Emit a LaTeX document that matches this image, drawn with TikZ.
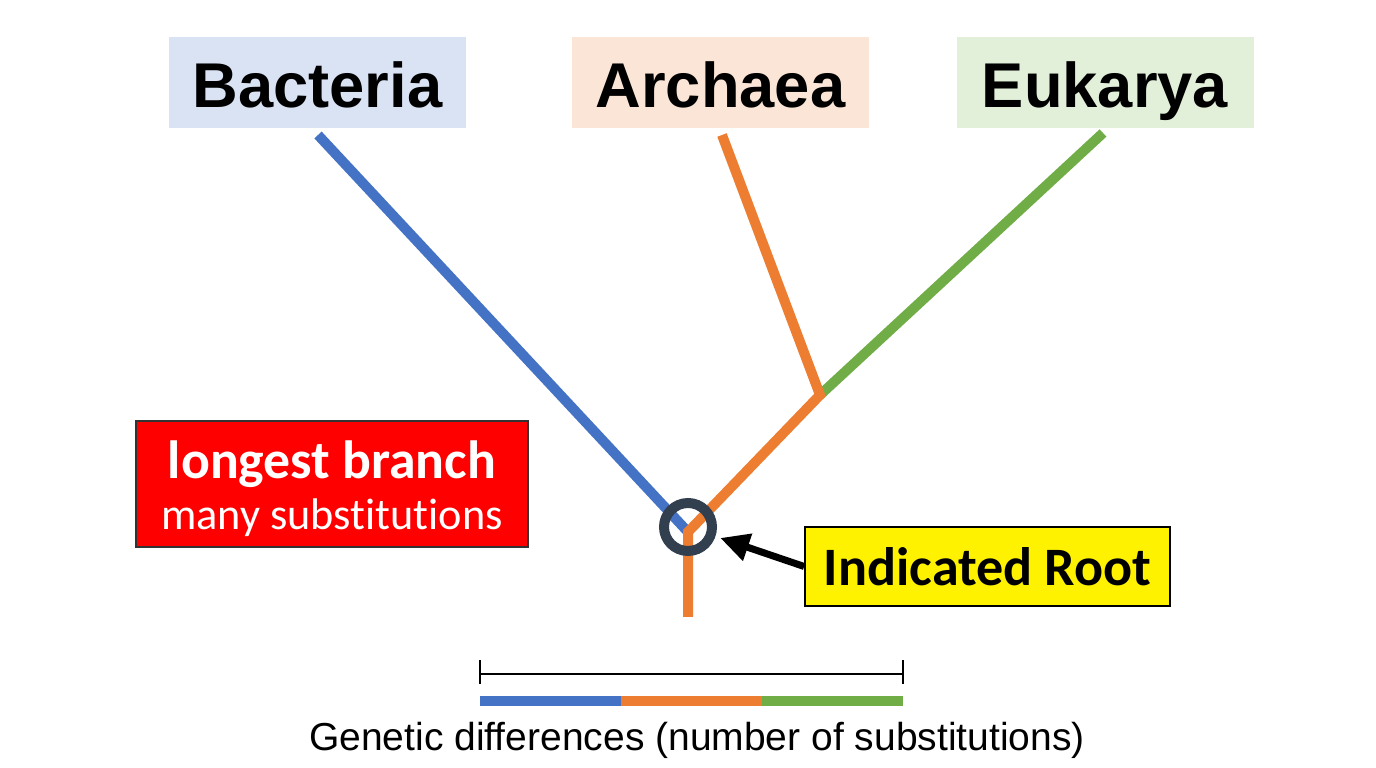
\documentclass[tikz,border=0pt]{standalone}
\usepackage{fontspec}
\setmainfont{Liberation Sans}
\newfontfamily\calibri[Ligatures=NoCommon]{Carlito}
\usetikzlibrary{arrows.meta}
\definecolor{bactblue}{HTML}{4472C4}
\definecolor{archorange}{HTML}{ED7D31}
\definecolor{eukgreen}{HTML}{70AD47}
\definecolor{bactfill}{HTML}{DAE3F3}
\definecolor{archfill}{HTML}{FBE5D6}
\definecolor{eukfill}{HTML}{E2F0D9}
\definecolor{ringnavy}{HTML}{323F4F}
\begin{document}
\begin{tikzpicture}[x=0.1mm, y=-0.1mm,
    domainbox/.style={minimum width=29.7mm, minimum height=9.1mm, inner sep=0pt,
      text height=14pt, text depth=0pt, font=\bfseries\fontsize{18}{20}\selectfont},
    branch/.style={line width=1mm},
  ]
  \useasboundingbox (0,0) rectangle (1376,768);

  % Domain labels
  \node[domainbox, fill=bactfill] (bacteria) at (317.5,82.5) {Bacteria};
  \node[domainbox, fill=archfill] (archaea) at (720.5,82.5) {Archaea};
  \node[domainbox, fill=eukfill] (eukarya) at (1105,82.5) {Eukarya};

  % Tree
  \coordinate (bact) at (318,135);
  \coordinate (arch) at (722,135);
  \coordinate (euk) at (1103,133);
  \coordinate (ae) at (820,395);
  \coordinate (root) at (688,532);
  \coordinate (base) at (688,617);
  \draw[branch, bactblue] (bact) -- (root);
  \draw[branch, eukgreen] (euk) -- (ae);
  \draw[branch, archorange] (arch) -- (ae) -- (root) -- (base);

  % Root marker
  \node[circle, draw=ringnavy, line width=1mm, minimum size=4.8mm, inner sep=0pt] (ring) at (688,527) {};
  \node[draw, line width=0.5pt, fill=yellow, minimum width=36.5mm, minimum height=7.9mm,
    font=\calibri\bfseries\fontsize{15.4}{18}\selectfont] (iroot) at (987.5,566.5) {Indicated Root};
  \draw[-{Triangle[length=2.9mm,width=2.7mm]}, line width=0.7mm, shorten >=0.5mm] (iroot.west) -- (ring);

  % Longest branch note
  \node[draw=black!80, line width=0.4pt, fill=red, minimum width=39.2mm, minimum height=12.6mm] (longest) at (332,484) {};
  \node[text=white, align=center, font=\calibri\fontsize{12.6}{14.6}\selectfont] (longtext) at (332,489)
    {{\bfseries\fontsize{15.3}{14.6}\selectfont longest branch}\\many substitutions};

  % Scale bar
  \draw[line width=0.6pt] (480,674) -- (903,674);
  \draw[line width=0.6pt] (480,660) -- (480,684);
  \draw[line width=0.6pt] (903,660) -- (903,684);
  \foreach \c [count=\i] in {bactblue,archorange,eukgreen}
    \fill[\c] ({480+141*(\i-1)},696) rectangle ++(141,10);
  \node[font=\fontsize{11.1}{13}\selectfont] (axis) at (697,740) {Genetic differences (number of substitutions)};
\end{tikzpicture}
\end{document}
